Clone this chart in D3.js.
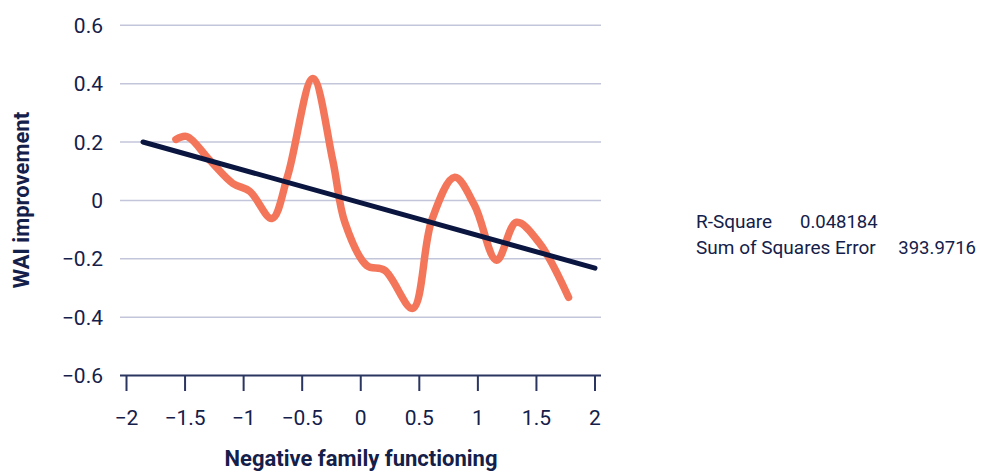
<!DOCTYPE html>
<html><head><meta charset="utf-8">
<script src="https://cdn.jsdelivr.net/npm/d3@7"></script>
<style>
html,body{margin:0;padding:0;background:#fff;}
text{font-family:Roboto, "Noto Sans", sans-serif;fill:#14204a;}
</style></head>
<body><svg id="c" width="982" height="472"></svg>
<script>
// Data
const curveX = [-1.578,-1.484,-1.288,-1.092,-0.947,-0.759,-0.623,-0.409,-0.239,-0.136,0.051,0.205,0.443,0.606,0.802,0.972,1.160,1.330,1.527,1.774];
const curveY = [0.209,0.219,0.137,0.058,0.031,-0.062,0.086,0.418,0.137,-0.075,-0.223,-0.240,-0.370,-0.068,0.079,-0.017,-0.205,-0.075,-0.147,-0.332];
const trendX = [-1.859, 2.0];
const trendY = [0.2, -0.232];
const xTicks = [-2,-1.5,-1,-0.5,0,0.5,1,1.5,2];
const yTicks = [0.6,0.4,0.2,0,-0.2,-0.4,-0.6];
const statLabels = ["R-Square","Sum of Squares Error"];
const statValues = ["0.048184","393.9716"];

const svg = d3.select("#c");
const x = d3.scaleLinear().domain([-2,2]).range([126.5,595]);
const y = d3.scaleLinear().domain([-0.6,0.6]).range([375.5,25.3]);
const fmt = v => (v<0 ? "\u2212" : "") + String(Math.abs(v));
const gx0 = 120, gx1 = 601;

// gridlines
svg.append("g").selectAll("line").data(yTicks.filter(v=>v>-0.6)).join("line")
  .attr("x1",gx0).attr("x2",gx1).attr("y1",d=>y(d)).attr("y2",d=>y(d))
  .attr("stroke","#c3c6da").attr("stroke-width",1.5);

// y labels
svg.append("g").selectAll("text").data(yTicks).join("text")
  .attr("x",103).attr("y",d=>y(d)).attr("dy","0.36em").attr("text-anchor","end")
  .attr("font-size",21).text(fmt);

// x axis
const xa = svg.append("g");
xa.append("line").attr("x1",gx0).attr("x2",gx1).attr("y1",y(-0.6)).attr("y2",y(-0.6))
  .attr("stroke","#2a3560").attr("stroke-width",2);
xa.selectAll("line.t").data(xTicks).join("line").attr("class","t")
  .attr("x1",d=>x(d)).attr("x2",d=>x(d)).attr("y1",y(-0.6)).attr("y2",391)
  .attr("stroke","#2a3560").attr("stroke-width",2);
xa.selectAll("text").data(xTicks).join("text")
  .attr("x",d=>x(d)).attr("y",417).attr("dy","0.36em").attr("text-anchor","middle")
  .attr("font-size",21).text(fmt);

// axis titles
svg.append("text").attr("x",361).attr("y",458).attr("dy","0.36em").attr("text-anchor","middle")
  .attr("font-size",22).attr("font-weight","bold").text("Negative family functioning");
svg.append("text").attr("transform","translate(21,200) rotate(-90)").attr("dy","0.36em")
  .attr("text-anchor","middle").attr("font-size",22).attr("font-weight","bold").text("WAI improvement");

// orange curve
const pts = curveX.map((v,i)=>[v,curveY[i]]);
svg.append("path").datum(pts)
  .attr("d", d3.line().x(d=>x(d[0])).y(d=>y(d[1])).curve(d3.curveCatmullRom.alpha(0.5)))
  .attr("fill","none").attr("stroke","#f4765a").attr("stroke-width",7.5)
  .attr("stroke-linecap","round").attr("stroke-linejoin","round");

// trend line
const tp = trendX.map((v,i)=>[v,trendY[i]]);
svg.append("path").datum(tp)
  .attr("d", d3.line().x(d=>x(d[0])).y(d=>y(d[1])))
  .attr("fill","none").attr("stroke","#0b1640").attr("stroke-width",5).attr("stroke-linecap","round");

// stats
const st = svg.append("g");
st.selectAll("text.l").data(statLabels).join("text").attr("class","l")
  .attr("x",696).attr("y",(d,i)=>221+i*26).attr("dy","0.36em").attr("font-size",19).text(d=>d);
st.selectAll("text.v").data(statValues).join("text").attr("class","v")
  .attr("x",(d,i)=>i===0?800:976).attr("text-anchor",(d,i)=>i===0?"start":"end")
  .attr("y",(d,i)=>221+i*26).attr("dy","0.36em").attr("font-size",18.5).text(d=>d);
</script></body></html>
